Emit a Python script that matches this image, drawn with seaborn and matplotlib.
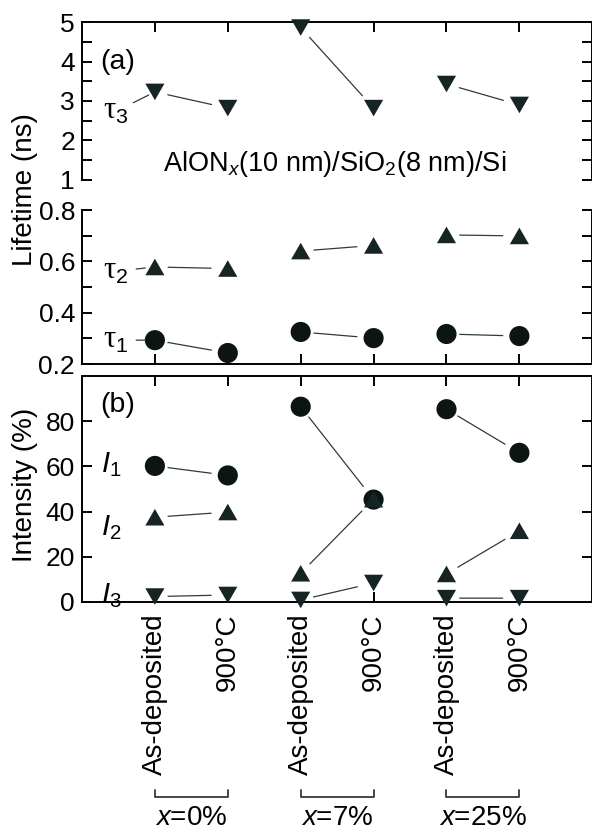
#
# Positron lifetime / intensity of AlONx(10 nm)/SiO2(8 nm)/Si stacks
#

import numpy as np
import pandas as pd
import matplotlib
matplotlib.use("Agg")
import matplotlib.pyplot as plt
import seaborn as sns

##################################################################
#
# data
#
treatments = ["As-deposited", "900°C", "As-deposited", "900°C", "As-deposited", "900°C"]
compositions = ["$x$=0%", "$x$=7%", "$x$=25%"]

tau1 = [0.293, 0.243, 0.325, 0.301, 0.317, 0.309]
tau2 = [0.578, 0.572, 0.640, 0.662, 0.703, 0.699]
tau3 = [3.23, 2.82, 4.86, 2.82, 3.43, 2.90]

int1 = [60.2, 56.0, 86.4, 45.3, 85.3, 66.0]
int2 = [37.5, 39.8, 12.7, 45.5, 12.4, 31.5]
int3 = [2.4, 3.1, 0.9, 8.4, 1.7, 1.7]

pos = np.arange(1, len(treatments) + 1)
df = pd.DataFrame({"pos": pos, "tau1": tau1, "tau2": tau2, "tau3": tau3,
                   "I1": int1, "I2": int2, "I3": int3})

##################################################################
#
# style
#
sns.set_theme(style="ticks")
plt.rcParams['font.family'] = ['Liberation Sans', 'DejaVu Sans']
plt.rcParams['mathtext.fontset'] = 'custom'
plt.rcParams['mathtext.rm'] = 'Liberation Sans'
plt.rcParams['mathtext.it'] = 'Liberation Sans:italic'
plt.rcParams['mathtext.cal'] = 'Liberation Serif'
for key in ['text.color', 'axes.labelcolor', 'xtick.color', 'ytick.color',
            'axes.edgecolor']:
    plt.rcParams[key] = 'black'

C_CIRC = "#0c1414"
C_TRI = "#172424"
C_LINE = "#2f3b3b"
TRI_UP = [(-1, -0.866), (1, -0.866), (0, 0.866)]
TRI_DN = [(-1, 0.866), (1, 0.866), (0, -0.866)]
FS = 19

fig = plt.figure(figsize=(5.92, 8.34), dpi=100)
L, W = 0.1385, 0.862
ax_top = fig.add_axes([L, 0.7842, W, 0.1894])
ax_mid = fig.add_axes([L, 0.5635, W, 0.1847])
ax_bot = fig.add_axes([L, 0.2782, W, 0.2710])


def draw_series(ax, col, marker, color, size):
    sns.scatterplot(data=df, x="pos", y=col, marker=marker, s=size, color=color,
                    edgecolor="none", linewidth=0, clip_on=False, zorder=3,
                    legend=False, ax=ax)
    vals = df[col].values
    # short connectors between as-deposited and annealed of each composition
    for i in range(0, len(vals), 2):
        ax.annotate("", xy=(pos[i + 1], vals[i + 1]), xytext=(pos[i], vals[i]),
                    arrowprops=dict(arrowstyle="-", color=C_LINE, lw=0.9,
                                    shrinkA=9.5, shrinkB=12))


def style_axes(ax):
    ax.set_xlim(0, 7)
    ax.set_xlabel("")
    ax.set_ylabel("")
    ax.set_xticks(pos)
    for sp in ax.spines.values():
        sp.set_linewidth(1.4)
        sp.set_color("black")
    ax.tick_params(which="both", direction="in", length=7, width=1.4,
                   right=True, labelsize=FS, pad=5, color="black",
                   labelcolor="black")


##################################################################
#
# (a) lifetimes - upper broken part (tau3)
#
draw_series(ax_top, "tau3", TRI_DN, C_TRI, 190)
style_axes(ax_top)
ax_top.set_ylim(1, 5)
ax_top.set_yticks([1, 2, 3, 4, 5])
ax_top.yaxis.set_minor_locator(matplotlib.ticker.MultipleLocator(0.5))
ax_top.spines["bottom"].set_visible(False)
ax_top.tick_params(axis="x", bottom=False, top=True, labelbottom=False)
ax_top.text(0.035, 0.75, "(a)", transform=ax_top.transAxes, fontsize=20.5,
            va="center", ha="left")
ax_top.text(0.158, 0.1, "AlON$_{x}$(10 nm)/SiO$_{2}$(8 nm)/Si",
            transform=ax_top.transAxes, fontsize=19.5, va="center", ha="left")
ax_top.annotate(r"$\mathcal{\tau}_3$", xy=(pos[0], tau3[0]), xytext=(-28, -14),
                textcoords="offset points", fontsize=22, ha="center", va="center",
                arrowprops=dict(arrowstyle="-", color=C_LINE, lw=0.9,
                                shrinkA=1, shrinkB=5))

# lower part (tau1, tau2)
draw_series(ax_mid, "tau1", "o", C_CIRC, 210)
draw_series(ax_mid, "tau2", TRI_UP, C_TRI, 190)
style_axes(ax_mid)
ax_mid.set_ylim(0.2, 0.8)
ax_mid.set_yticks([0.2, 0.4, 0.6, 0.8])
ax_mid.yaxis.set_minor_locator(matplotlib.ticker.MultipleLocator(0.1))
ax_mid.spines["top"].set_visible(False)
ax_mid.tick_params(axis="x", labelbottom=False)
ax_mid.annotate(r"$\mathcal{\tau}_2$", xy=(pos[0], tau2[0]), xytext=(-28, -3),
                textcoords="offset points", fontsize=22, ha="center", va="center",
                arrowprops=dict(arrowstyle="-", color=C_LINE, lw=0.9,
                                shrinkA=3, shrinkB=7))
ax_mid.annotate(r"$\mathcal{\tau}_1$", xy=(pos[0], tau1[0]), xytext=(-28, 0),
                textcoords="offset points", fontsize=22, ha="center", va="center",
                arrowprops=dict(arrowstyle="-", color=C_LINE, lw=0.9,
                                shrinkA=3, shrinkB=7))

##################################################################
#
# (b) intensities
#
draw_series(ax_bot, "I1", "o", C_CIRC, 210)
draw_series(ax_bot, "I2", TRI_UP, C_TRI, 190)
draw_series(ax_bot, "I3", TRI_DN, C_TRI, 190)
style_axes(ax_bot)
ax_bot.set_ylim(0, 100)
ax_bot.set_yticks([0, 20, 40, 60, 80])
ax_bot.tick_params(axis="x", top=True)
ax_bot.set_xticklabels(treatments, rotation=90, fontsize=20, va="top")
ax_bot.tick_params(axis="x", pad=8)
ax_bot.text(0.035, 0.87, "(b)", transform=ax_bot.transAxes, fontsize=20.5,
            va="center", ha="left")
for lab, yv in zip(["$I_1$", "$I_2$", "$I_3$"], [61, 33, 3]):
    ax_bot.text(0.4, yv, lab, fontsize=21, ha="center", va="center")

# composition brackets under the tick labels
trans = ax_bot.get_xaxis_transform()
for k, comp in enumerate(compositions):
    x0, x1 = pos[2 * k], pos[2 * k + 1]
    ax_bot.plot([x0, x0, x1, x1], [-0.832, -0.863, -0.863, -0.832],
                transform=trans, clip_on=False, color=C_LINE, lw=1.3)
    ax_bot.text((x0 + x1) / 2, -0.956, comp, transform=trans, fontsize=20,
                ha="center", va="center")

# shared y labels
fig.text(0.042, 1 - 190 / 834, "Lifetime (ns)", rotation=90, fontsize=20,
         ha="center", va="center")
fig.text(0.042, 1 - 485 / 834, "Intensity (%)", rotation=90, fontsize=20,
         ha="center", va="center")

fig.savefig("out.png", dpi=100)
